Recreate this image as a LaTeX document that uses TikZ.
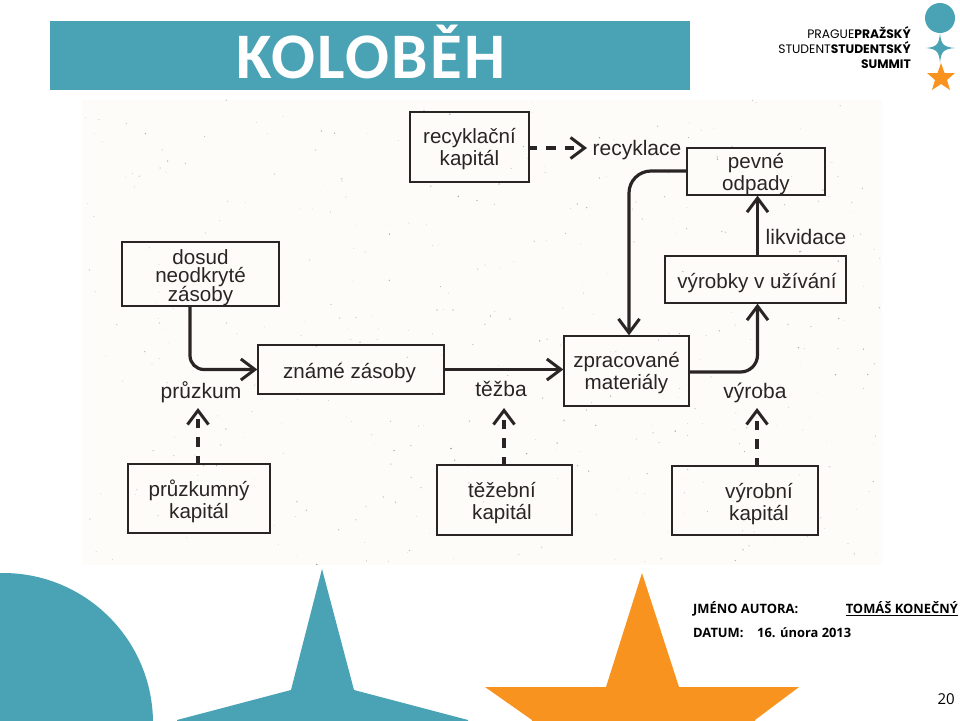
\documentclass[tikz,border=0pt]{standalone}
\usepackage{fontspec}
\setmainfont{Liberation Sans}
\newfontfamily\titlefont[LetterSpace=3.2]{Carlito}
\newfontfamily\footfont{Open Sans}
\newfontfamily\logofont{Poppins}
\usetikzlibrary{arrows.meta}
\definecolor{teal}{HTML}{4AA2B5}
\definecolor{amber}{HTML}{F7931E}
\definecolor{paper}{HTML}{FDFCF9}
\definecolor{ink}{HTML}{2A2524}
% height reserved for a box's first line; it sets the text's vertical place
\newcommand\firstline[1]{\rule{0pt}{#1}}
\tikzset{
  x=1pt,y=-1pt,
  box/.style={draw=ink,line width=1.3pt,text=ink,align=center,inner xsep=0pt,inner ysep=-10pt,
    font=\fontsize{20.6}{22}\selectfont,
    execute at begin node={\lineskiplimit=-10pt}},
  lbl/.style={text=ink,inner sep=0pt,font=\fontsize{21}{22}\selectfont},
  tipv/.style={-{Straight Barb[length=14pt,width=21pt,line width=3pt]}},
  flow/.style={draw=ink,line width=3.2pt,tipv,rounded corners=14pt},
  capflow/.style={draw=ink,line width=3.2pt,tipv,dash pattern=on 9.5pt off 9pt,dash phase=2pt},
  foot/.style={anchor=base west,inner sep=0pt,text=black,font=\footfont\bfseries\fontsize{12.9}{14}\selectfont},
  logo/.style={anchor=base east,inner sep=0pt,text=black,font=\logofont\fontsize{12.3}{13}\selectfont},
}
\begin{document}
\begin{tikzpicture}
\useasboundingbox (0,0) rectangle (960,720);
\clip (0,0) rectangle (960,720);

% header bar and logo
\fill[teal] (50,21) rectangle (690,90);
\node[anchor=base,inner sep=0pt,text=white,font=\titlefont\bfseries\fontsize{65}{66}\selectfont] (title) at (371,78.5) {KOLOBĚH};
\node[logo] (logoa) at (911,38.5) {PRAGUE\textbf{PRAŽSKÝ}};
\node[logo] (logob) at (911,53.5) {STUDENT\textbf{STUDENTSKÝ}};
\node[logo] (logoc) at (911,68.5) {\textbf{SUMMIT}};
\fill[teal] (940,18) circle (15);
\fill[teal] (940,33) .. controls (941,44) and (943,47) .. (955,48)
  .. controls (943,49) and (941,52) .. (940,63)
  .. controls (939,52) and (937,49) .. (926,48)
  .. controls (937,47) and (939,44) .. (940,33) -- cycle;
\fill[amber] (941,63) -- (944.5,73) -- (955,73) -- (947,80) -- (950,90) -- (941,84)
  -- (932,90) -- (935,80) -- (927,73) -- (937.5,73) -- cycle;

% scanned sheet with its paper grain
\fill[paper] (82,100) rectangle (882,565);
\pgfmathsetseed{4711}
\foreach \i in {1,...,420}{
  \pgfmathsetmacro\sx{82+800*rnd}
  \pgfmathsetmacro\sy{100+465*rnd}
  \pgfmathsetmacro\sr{0.25+0.55*rnd}
  \pgfmathsetmacro\st{12+28*rnd}
  \fill[black!\st!paper] (\sx,\sy) circle (\sr);
}

% boxes
\node[box,minimum width=119pt,minimum height=70pt] (reccap) at (469.5,147) {\firstline{18.5pt}recyklační\\kapitál};
\node[box,minimum width=138pt,minimum height=47pt] (waste) at (756,171.5) {\firstline{19.5pt}pevné\\odpady};
\node[box,minimum width=181pt,minimum height=47pt] (use) at (755.5,279.5) {\firstline{22pt}\hspace*{3pt}výrobky v užívání};
\node[box,minimum width=125pt,minimum height=70pt] (proc) at (626.5,371) {\firstline{20pt}zpracované\\materiály};
\node[box,minimum width=157pt,minimum height=64pt,font=\fontsize{20.6}{18.7}\selectfont] (hidden) at (200.5,274) {\firstline{22pt}dosud\\neodkryté\\zásoby};
\node[box,minimum width=186pt,minimum height=49pt] (known) at (351,369.5) {\firstline{23pt}známé zásoby\hspace*{3pt}};
\node[box,minimum width=142pt,minimum height=69pt] (expcap) at (199,498.5) {\firstline{23pt}průzkumný\\kapitál};
\node[box,minimum width=135pt,minimum height=70pt] (mincap) at (504.5,500) {\firstline{21pt}těžební\hspace*{5pt}\\kapitál\hspace*{5pt}};
\node[box,minimum width=146pt,minimum height=69pt] (prodcap) at (745,500.5) {\firstline{22.5pt}\hspace*{28pt}výrobní\\\hspace*{28pt}kapitál};

% process labels
\node[lbl] (lrec) at (637,150.5) {recyklace};
\node[lbl] (lliq) at (806,237) {likvidace};
\node[lbl] (lexp) at (201,392) {průzkum};
\node[lbl] (lmin) at (501,388.5) {těžba};
\node[lbl] (lprod) at (755,392.5) {výroba};

% free ends of the capital arrows, just short of their labels
\coordinate (texp) at (198,408);
\coordinate (tmin) at (504,408);
\coordinate (tprod) at (757,408);
\coordinate (trec) at (587,148);

% material flows
\draw[flow] ([xshift=-10.5pt]hidden.south) |- (known.west);
\draw[flow] (known.east) -- (known.east -| proc.west);
\draw[flow,rounded corners=17pt] ([yshift=-1pt]proc.east) -| ([xshift=2pt]use.south);
\draw[flow,rounded corners=22pt] ([yshift=.5pt]waste.west) -| ([xshift=2.5pt]proc.north);
\draw[flow,rounded corners=0pt] ([xshift=2pt]use.north) -- ([xshift=1.5pt]waste.south);

% capital inputs
\draw[capflow] (texp |- expcap.north) -- (texp);
\draw[capflow] (tmin |- mincap.north) -- (tmin);
\draw[capflow] (tprod |- prodcap.north) -- (tprod);
\draw[capflow] (reccap.east |- trec) -- (trec);

% lower decoration
\fill[teal] (3,723) circle (150);
\fill[teal] (322,569) -- (354,690) -- (468,720) -- (468,725) -- (177,725) -- (177,720) -- (291,690) -- cycle;
\fill[amber] (642,573) -- (679,687) -- (799,687) -- (755,720) -- (755,725) -- (532,725) -- (532,720) -- (485,687) -- (606,687) -- cycle;

% footer
\node[foot] (fa) at (693,613.5) {JMÉNO AUTORA:};
\node[foot,anchor=base east] (fb) at (958,613.5) {\underline{TOMÁŠ KONEČNÝ}};
\node[foot] (fc) at (693,637.5) {DATUM:};
\node[foot] (fd) at (757,637.5) {16. února 2013};
\node[anchor=base east,inner sep=0pt,text=black,font=\footfont\fontsize{15}{16}\selectfont] (page) at (955,704) {20};
\end{tikzpicture}
\end{document}
